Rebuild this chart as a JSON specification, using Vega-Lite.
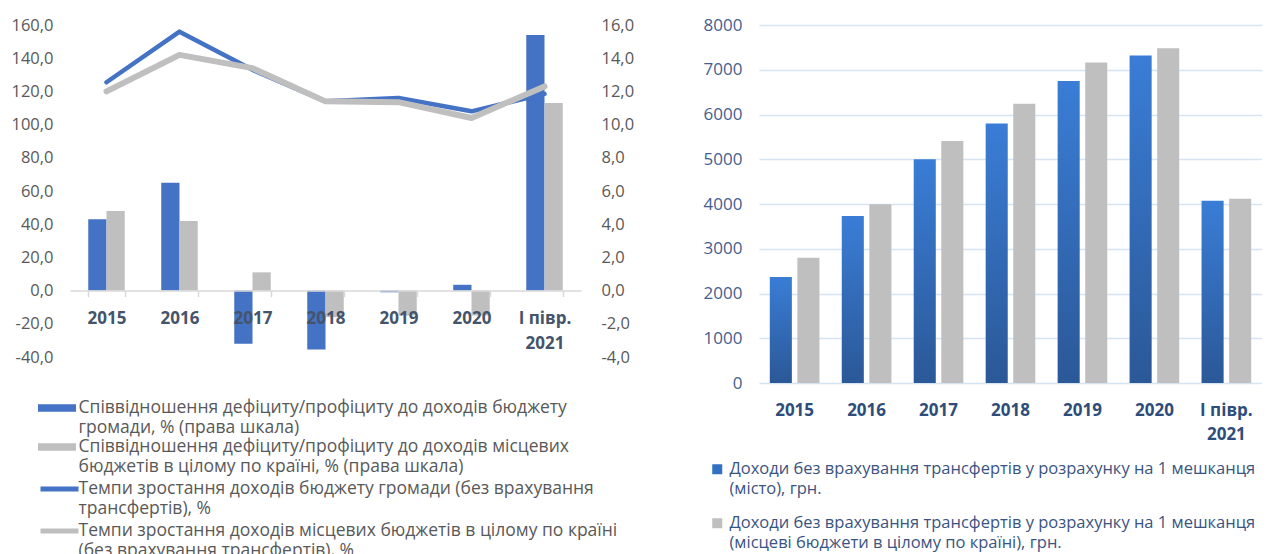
{
  "$schema": "https://vega.github.io/schema/vega-lite/v6.json",
  "padding": {"left": 10, "top": 16, "right": 0, "bottom": 0},
  "background": "white",
  "spacing": 69,
  "resolve": {"scale": {"xOffset": "independent", "fill": "independent", "stroke": "independent"}, "legend": {"fill": "independent", "stroke": "independent"}},
  "config": {"view": {"stroke": null}, "font": "Open Sans", "style": {"guide-label": {"lineHeight": 20}}},
  "datasets": {
    "leftBars": [
      {"year": "2015", "series": "Співвідношення дефіциту/профіциту до доходів бюджету|громади, % (права шкала)", "value": 4.3},
      {"year": "2015", "series": "Співвідношення дефіциту/профіциту до доходів місцевих|бюджетів в цілому по країні, % (права шкала)", "value": 4.8},
      {"year": "2016", "series": "Співвідношення дефіциту/профіциту до доходів бюджету|громади, % (права шкала)", "value": 6.5},
      {"year": "2016", "series": "Співвідношення дефіциту/профіциту до доходів місцевих|бюджетів в цілому по країні, % (права шкала)", "value": 4.2},
      {"year": "2017", "series": "Співвідношення дефіциту/профіциту до доходів бюджету|громади, % (права шкала)", "value": -3.2},
      {"year": "2017", "series": "Співвідношення дефіциту/профіциту до доходів місцевих|бюджетів в цілому по країні, % (права шкала)", "value": 1.1},
      {"year": "2018", "series": "Співвідношення дефіциту/профіциту до доходів бюджету|громади, % (права шкала)", "value": -3.55},
      {"year": "2018", "series": "Співвідношення дефіциту/профіциту до доходів місцевих|бюджетів в цілому по країні, % (права шкала)", "value": -1.6},
      {"year": "2019", "series": "Співвідношення дефіциту/профіциту до доходів бюджету|громади, % (права шкала)", "value": -0.1},
      {"year": "2019", "series": "Співвідношення дефіциту/профіциту до доходів місцевих|бюджетів в цілому по країні, % (права шкала)", "value": -1.5},
      {"year": "2020", "series": "Співвідношення дефіциту/профіциту до доходів бюджету|громади, % (права шкала)", "value": 0.35},
      {"year": "2020", "series": "Співвідношення дефіциту/профіциту до доходів місцевих|бюджетів в цілому по країні, % (права шкала)", "value": -1.5},
      {"year": "І півр. 2021", "series": "Співвідношення дефіциту/профіциту до доходів бюджету|громади, % (права шкала)", "value": 15.4},
      {"year": "І півр. 2021", "series": "Співвідношення дефіциту/профіциту до доходів місцевих|бюджетів в цілому по країні, % (права шкала)", "value": 11.3}
    ],
    "leftLines": [
      {"year": "2015", "series": "Темпи зростання доходів бюджету громади (без врахування|трансфертів), %", "value": 125.5},
      {"year": "2016", "series": "Темпи зростання доходів бюджету громади (без врахування|трансфертів), %", "value": 156},
      {"year": "2017", "series": "Темпи зростання доходів бюджету громади (без врахування|трансфертів), %", "value": 133},
      {"year": "2018", "series": "Темпи зростання доходів бюджету громади (без врахування|трансфертів), %", "value": 114},
      {"year": "2019", "series": "Темпи зростання доходів бюджету громади (без врахування|трансфертів), %", "value": 116},
      {"year": "2020", "series": "Темпи зростання доходів бюджету громади (без врахування|трансфертів), %", "value": 108},
      {"year": "І півр. 2021", "series": "Темпи зростання доходів бюджету громади (без врахування|трансфертів), %", "value": 118.5},
      {"year": "2015", "series": "Темпи зростання доходів місцевих бюджетів в цілому по країні|(без врахування трансфертів), %", "value": 120},
      {"year": "2016", "series": "Темпи зростання доходів місцевих бюджетів в цілому по країні|(без врахування трансфертів), %", "value": 142},
      {"year": "2017", "series": "Темпи зростання доходів місцевих бюджетів в цілому по країні|(без врахування трансфертів), %", "value": 134},
      {"year": "2018", "series": "Темпи зростання доходів місцевих бюджетів в цілому по країні|(без врахування трансфертів), %", "value": 114},
      {"year": "2019", "series": "Темпи зростання доходів місцевих бюджетів в цілому по країні|(без врахування трансфертів), %", "value": 113.5},
      {"year": "2020", "series": "Темпи зростання доходів місцевих бюджетів в цілому по країні|(без врахування трансфертів), %", "value": 104},
      {"year": "І півр. 2021", "series": "Темпи зростання доходів місцевих бюджетів в цілому по країні|(без врахування трансфертів), %", "value": 123}
    ],
    "right": [
      {"year": "2015", "series": "Доходи без врахування трансфертів у розрахунку на 1 мешканця|(місто), грн.", "value": 2370},
      {"year": "2015", "series": "Доходи без врахування трансфертів у розрахунку на 1 мешканця|(місцеві бюджети в цілому по країні), грн.", "value": 2800},
      {"year": "2016", "series": "Доходи без врахування трансфертів у розрахунку на 1 мешканця|(місто), грн.", "value": 3730},
      {"year": "2016", "series": "Доходи без врахування трансфертів у розрахунку на 1 мешканця|(місцеві бюджети в цілому по країні), грн.", "value": 3995},
      {"year": "2017", "series": "Доходи без врахування трансфертів у розрахунку на 1 мешканця|(місто), грн.", "value": 5000},
      {"year": "2017", "series": "Доходи без врахування трансфертів у розрахунку на 1 мешканця|(місцеві бюджети в цілому по країні), грн.", "value": 5410},
      {"year": "2018", "series": "Доходи без врахування трансфертів у розрахунку на 1 мешканця|(місто), грн.", "value": 5800},
      {"year": "2018", "series": "Доходи без врахування трансфертів у розрахунку на 1 мешканця|(місцеві бюджети в цілому по країні), грн.", "value": 6240},
      {"year": "2019", "series": "Доходи без врахування трансфертів у розрахунку на 1 мешканця|(місто), грн.", "value": 6750},
      {"year": "2019", "series": "Доходи без врахування трансфертів у розрахунку на 1 мешканця|(місцеві бюджети в цілому по країні), грн.", "value": 7160},
      {"year": "2020", "series": "Доходи без врахування трансфертів у розрахунку на 1 мешканця|(місто), грн.", "value": 7320},
      {"year": "2020", "series": "Доходи без врахування трансфертів у розрахунку на 1 мешканця|(місцеві бюджети в цілому по країні), грн.", "value": 7480},
      {"year": "І півр. 2021", "series": "Доходи без врахування трансфертів у розрахунку на 1 мешканця|(місто), грн.", "value": 4070},
      {"year": "І півр. 2021", "series": "Доходи без врахування трансфертів у розрахунку на 1 мешканця|(місцеві бюджети в цілому по країні), грн.", "value": 4120}
    ]
  },
  "hconcat": [
    {
      "width": 511,
      "height": 332,
      "layer": [
        {
          "data": {"name": "leftBars"},
          "mark": {"type": "bar"},
          "encoding": {
            "x": {
              "field": "year", "type": "nominal", "sort": null,
              "scale": {"type": "band", "paddingInner": 0.5, "paddingOuter": 0.25},
              "axis": {
                "title": null, "labelAngle": 0, "offset": -66.4, "zindex": 1,
                "domainColor": "#D9D9D9", "domainWidth": 1.5,
                "ticks": true, "tickBand": "extent", "tickColor": "#D9D9D9", "tickSize": 6, "tickWidth": 1.5,
                "labelFontWeight": "bold", "labelFontSize": 17, "labelColor": "#44546A",
                "labelPadding": 14, "labelLineHeight": 25,
                "labelExpr": "datum.value == 'І півр. 2021' ? ['І півр.', '2021'] : datum.value"
              }
            },
            "xOffset": {"field": "series", "type": "nominal", "sort": null, "scale": {"paddingInner": 0, "paddingOuter": 0}},
            "y": {
              "field": "value", "type": "quantitative",
              "scale": {"domain": [-4, 16], "nice": false, "zero": false},
              "axis": {
                "orient": "right", "title": null, "grid": false, "domain": false, "ticks": false,
                "values": [-4, -2, 0, 2, 4, 6, 8, 10, 12, 14, 16],
                "labelExpr": "(datum.value < 0 ? '-' : '') + replace(format(abs(datum.value), '.1f'), '.', ',')",
                "labelPadding": 20, "labelFontSize": 16.5, "labelColor": "#595959"
              }
            },
            "fill": {
              "field": "series", "type": "nominal", "sort": null,
              "scale": {"range": ["#4472C4", "#BFBFBF"]},
              "legend": {
                "title": null, "orient": "none", "legendX": -22.5, "legendY": 373.5, "direction": "vertical",
                "symbolType": "M-2,-0.4H2V0.4H-2Z", "symbolSize": 361, "symbolStrokeWidth": 0,
                "labelExpr": "split(datum.label, '|')", "labelLimit": 700,
                "labelFontSize": 17.5, "labelColor": "#595959", "labelOffset": 12, "rowPadding": 1
              }
            }
          }
        },
        {
          "data": {"name": "leftLines"},
          "mark": {"type": "line", "strokeCap": "round", "strokeJoin": "round"},
          "encoding": {
            "x": {"field": "year", "type": "nominal", "sort": null, "scale": {"type": "band"}},
            "y": {
              "field": "value", "type": "quantitative",
              "scale": {"domain": [-40, 160], "nice": false, "zero": false},
              "axis": {
                "title": null, "domain": false, "ticks": false,
                "values": [-40, -20, 0, 20, 40, 60, 80, 100, 120, 140, 160],
                "labelExpr": "(datum.value < 0 ? '-' : '') + replace(format(abs(datum.value), '.1f'), '.', ',')",
                "labelPadding": 17, "labelFontSize": 16.5, "labelColor": "#595959",
                "gridColor": "#DDE3EC", "gridWidth": 1.5
              }
            },
            "strokeWidth": {"field": "series", "type": "nominal", "sort": null, "scale": {"range": [4.5, 6]}, "legend": null},
            "stroke": {
              "field": "series", "type": "nominal", "sort": null,
              "scale": {"range": ["#4472C4", "#BFBFBF"]},
              "legend": {
                "title": null, "orient": "none", "legendX": -22.5, "legendY": 452, "direction": "vertical",
                "symbolType": "M-2,0H2", "symbolSize": 361, "symbolStrokeWidth": 5,
                "labelExpr": "split(datum.label, '|')", "labelLimit": 700,
                "labelFontSize": 17.5, "labelColor": "#595959", "labelOffset": 7, "rowPadding": 1
              }
            }
          }
        }
      ],
      "resolve": {"scale": {"y": "independent", "fill": "independent", "stroke": "independent"}}
    },
    {
      "width": 503,
      "height": 358,
      "data": {"name": "right"},
      "mark": {"type": "bar"},
      "encoding": {
        "x": {
          "field": "year", "type": "nominal", "sort": null,
          "scale": {"type": "band", "paddingInner": 0.31, "paddingOuter": 0.15},
          "axis": {
            "title": null, "labelAngle": 0, "domain": false, "ticks": false,
            "labelFontWeight": "bold", "labelFontSize": 17, "labelColor": "#2E4D7B",
            "labelPadding": 19, "labelLineHeight": 24,
            "labelExpr": "datum.value == 'І півр. 2021' ? ['І півр.', '2021'] : datum.value"
          }
        },
        "xOffset": {"field": "series", "type": "nominal", "sort": null, "scale": {"paddingInner": 0.2, "paddingOuter": 0}},
        "y": {
          "field": "value", "type": "quantitative",
          "scale": {"domain": [0, 8000], "nice": false},
          "axis": {
            "title": null, "domain": false, "ticks": false,
            "values": [0, 1000, 2000, 3000, 4000, 5000, 6000, 7000, 8000], "format": "d",
            "labelPadding": 17, "labelFontSize": 17, "labelColor": "#44608F",
            "gridColor": "#D6E4F2", "gridWidth": 1.5
          }
        },
        "fill": {
          "condition": {
            "test": "indexof(datum.series, '(місто)') >= 0",
            "value": {"gradient": "linear", "x1": 0, "y1": 0, "x2": 0, "y2": 1, "stops": [{"offset": 0, "color": "#3A7DD6"}, {"offset": 1, "color": "#2B5897"}]}
          },
          "field": "series", "type": "nominal", "sort": null,
          "scale": {"range": ["#3270C4", "#BFBFBF"]},
          "legend": {
            "title": null, "orient": "none", "legendX": -50, "legendY": 436, "direction": "vertical",
            "symbolType": "square", "symbolSize": 100, "symbolStrokeWidth": 0,
            "labelExpr": "split(datum.label, '|')", "labelLimit": 700,
            "labelFontSize": 16.5, "labelColor": "#3A5482", "labelOffset": 4, "rowPadding": 17
          }
        }
      }
    }
  ]
}
